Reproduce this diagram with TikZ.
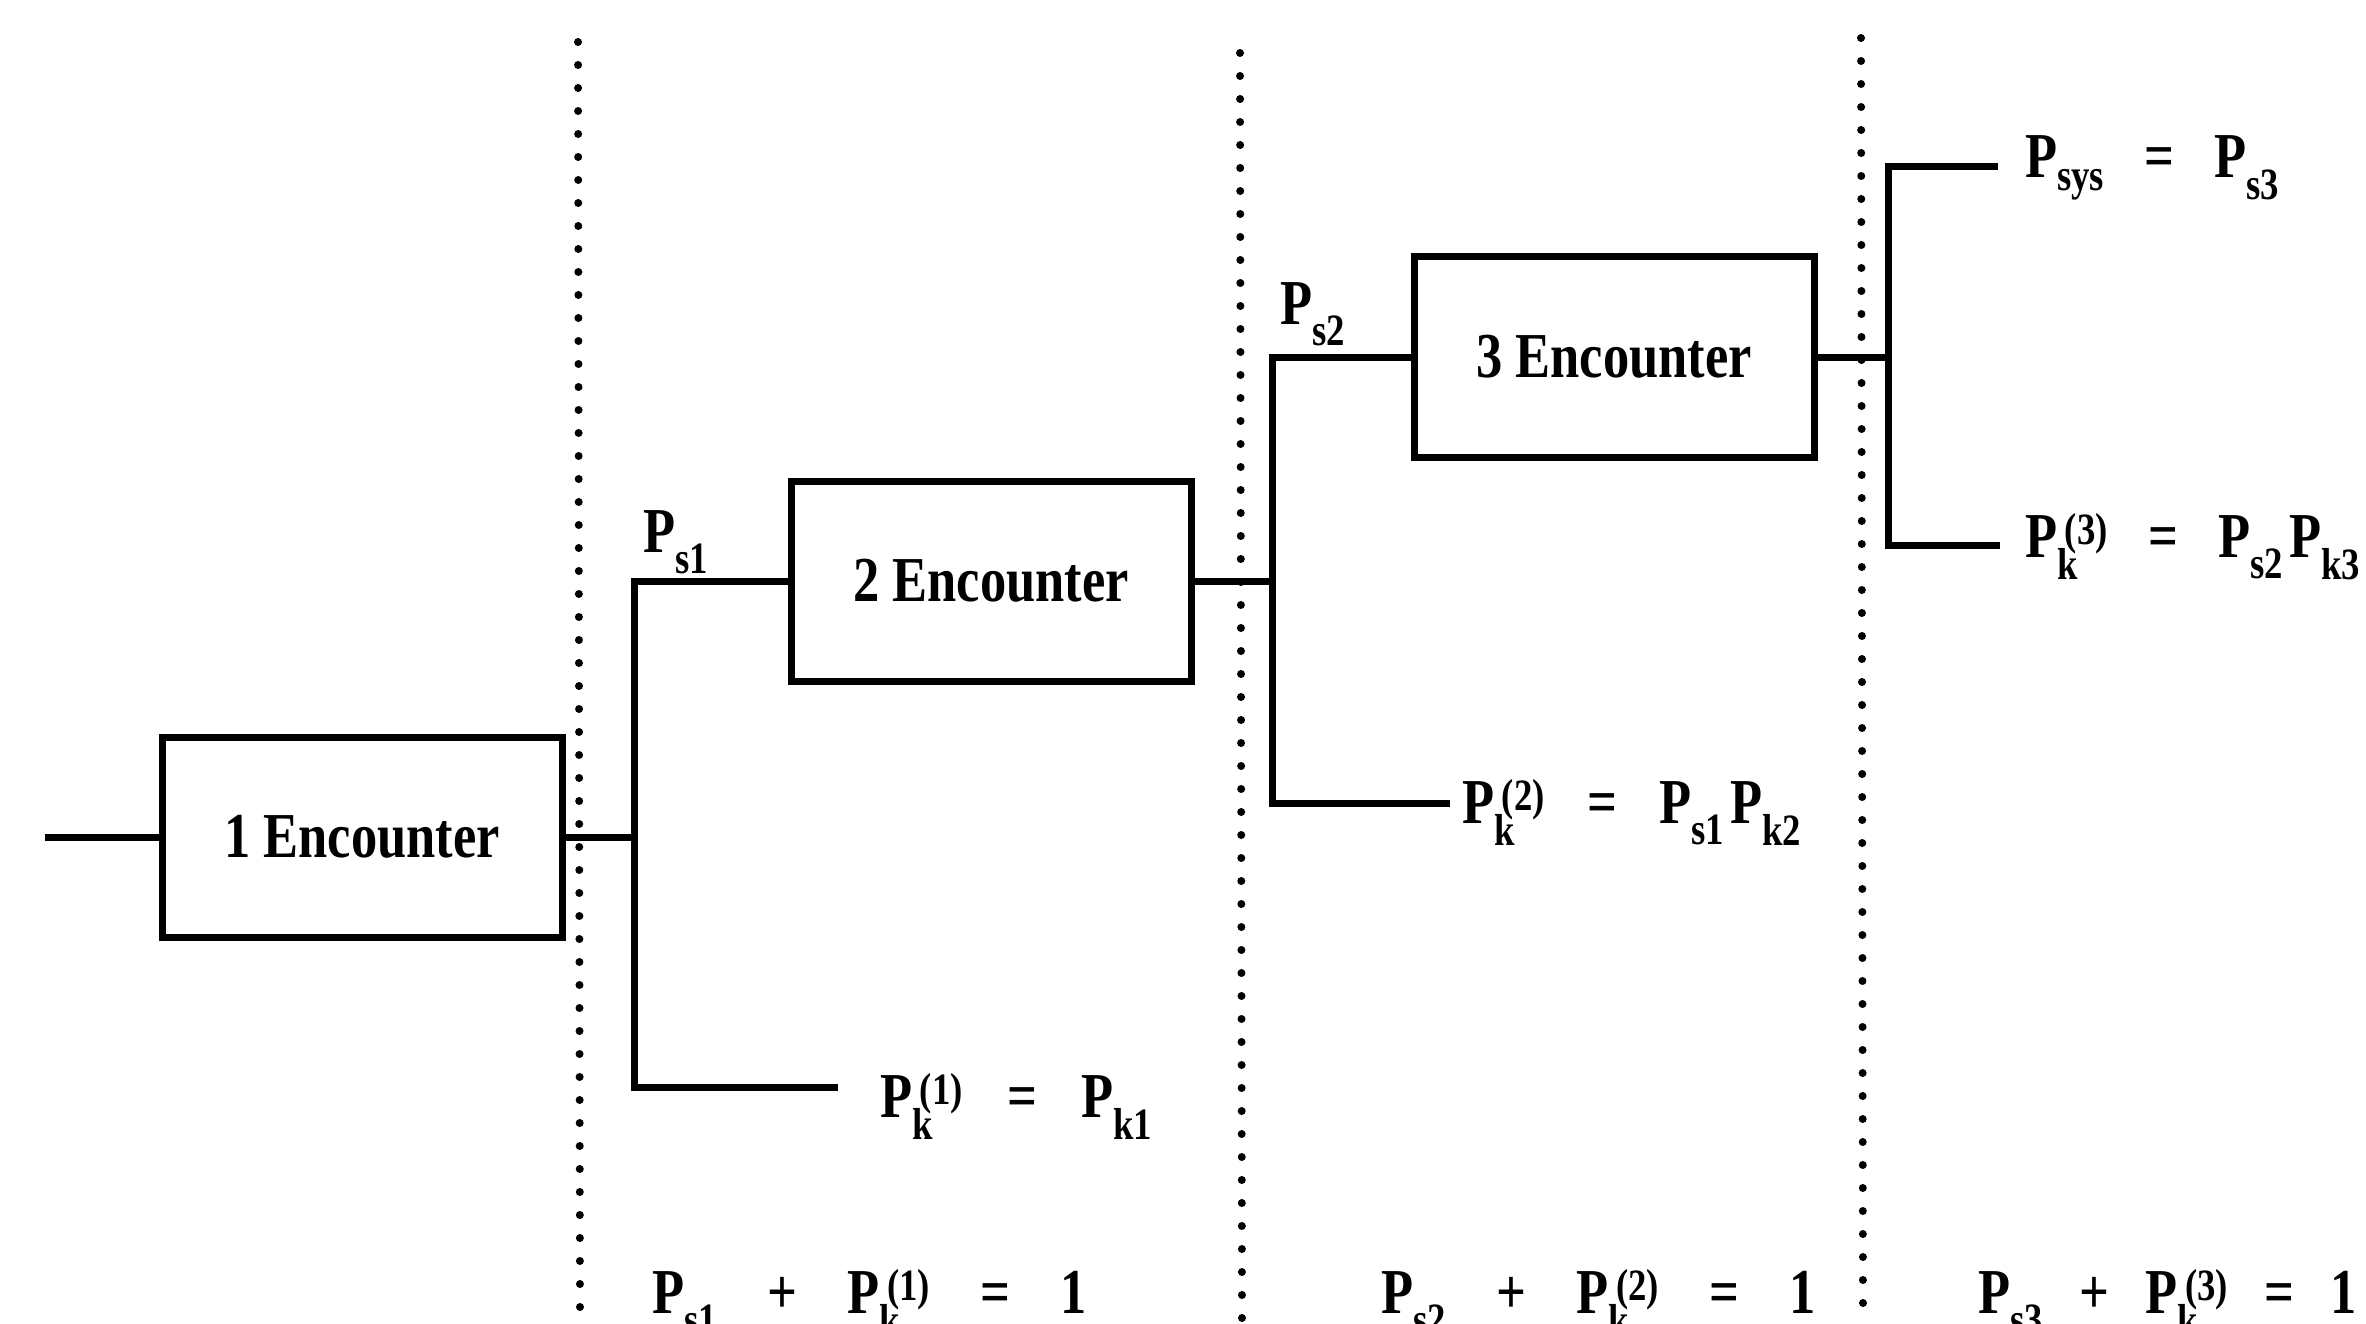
\documentclass[tikz,border=0pt]{standalone}
\usepackage{fontspec}
\setmainfont{Liberation Serif}[FakeStretch=0.82]
\newcommand\Ps[1]{P\textsubscript{#1}}
\newcommand\Pk[1]{P\rlap{\textsubscript{k}}\kern0.12em\textsuperscript{(#1)}}
\newcommand\op[2]{\hspace{#1}#2\hspace{#1}}
\begin{document}
\begin{tikzpicture}[x=1pt,y=-1pt,
  enc/.style={draw,line width=7pt,minimum width=400pt,minimum height=200pt,inner sep=0pt,
    font=\fontsize{64}{70}\selectfont\bfseries},
  wire/.style={line width=7pt},
  sep/.style={line width=8pt,line cap=round,dash pattern=on 0pt off 23pt},
  lab/.style={anchor=base west,inner sep=0pt,font=\fontsize{64}{70}\selectfont\bfseries}]
\useasboundingbox (0,0) rectangle (2366,1324);
% separators
\coordinate (s1t) at (578,42);  \coordinate (s1b) at (580,1324);
\coordinate (s2t) at (1240,53); \coordinate (s2b) at (1242,1324);
\coordinate (s3t) at (1861,38); \coordinate (s3b) at (1863,1324);
\draw[sep] (s1t) -- (s1b);
\draw[sep] (s2t) -- (s2b);
\draw[sep] (s3t) -- (s3b);
% boxes
\node[enc] (e1) at (362,837) {1 Encounter};
\node[enc] (e2) at (991,581) {2 Encounter};
\node[enc] (e3) at (1614,357) {3 Encounter};
% coordinates
\coordinate (in) at (45,837);
\coordinate (j1) at (634,837);
\coordinate (j1t) at (634,581);
\coordinate (j1b) at (634,1087);
\coordinate (k1e) at (838,1087);
\coordinate (j2) at (1272,581);
\coordinate (j2t) at (1272,357);
\coordinate (j2b) at (1272,803);
\coordinate (k2e) at (1450,803);
\coordinate (j3) at (1888,357);
\coordinate (j3t) at (1888,167);
\coordinate (j3b) at (1888,545);
\coordinate (s3e) at (1998,167);
\coordinate (k3e) at (2000,545);
% wires
\draw[wire] (in) -- (e1.west);
\draw[wire] (e1.east) -- (j1);
\draw[wire] (e2.west) -- (j1t) -- (j1b) -- (k1e);
\draw[wire] (e2.east) -- (j2);
\draw[wire] (e3.west) -- (j2t) -- (j2b) -- (k2e);
\draw[wire] (e3.east) -- (j3);
\draw[wire] (s3e) -- (j3t) -- (j3b) -- (k3e);
% labels
\node[lab] (ls1) at (643,552) {\Ps{s1}};
\node[lab] (ls2) at (1280,324) {\Ps{s2}};
\node[lab] (lk1) at (880,1117) {\Pk{1}\op{44pt}{=}\Ps{k1}};
\node[lab] (lk2) at (1462,823) {\Pk{2}\op{42pt}{=}\Ps{s1}\kern6pt\Ps{k2}};
\node[lab] (lsys) at (2025,178) {\Ps{sys}\op{40pt}{=}\Ps{s3}};
\node[lab] (lk3) at (2025,557) {\Pk{3}\op{40pt}{=}\Ps{s2}\kern6pt\Ps{k3}};
\node[lab] (q1) at (652,1313) {\Ps{s1}\op{50pt}{+}\Pk{1}\op{50pt}{=}1};
\node[lab] (q2) at (1381,1313) {\Ps{s2}\op{50pt}{+}\Pk{2}\op{50pt}{=}1};
\node[lab] (q3) at (1978,1313) {\Ps{s3}\op{36pt}{+}\Pk{3}\op{36pt}{=}1};
\end{tikzpicture}
\end{document}
